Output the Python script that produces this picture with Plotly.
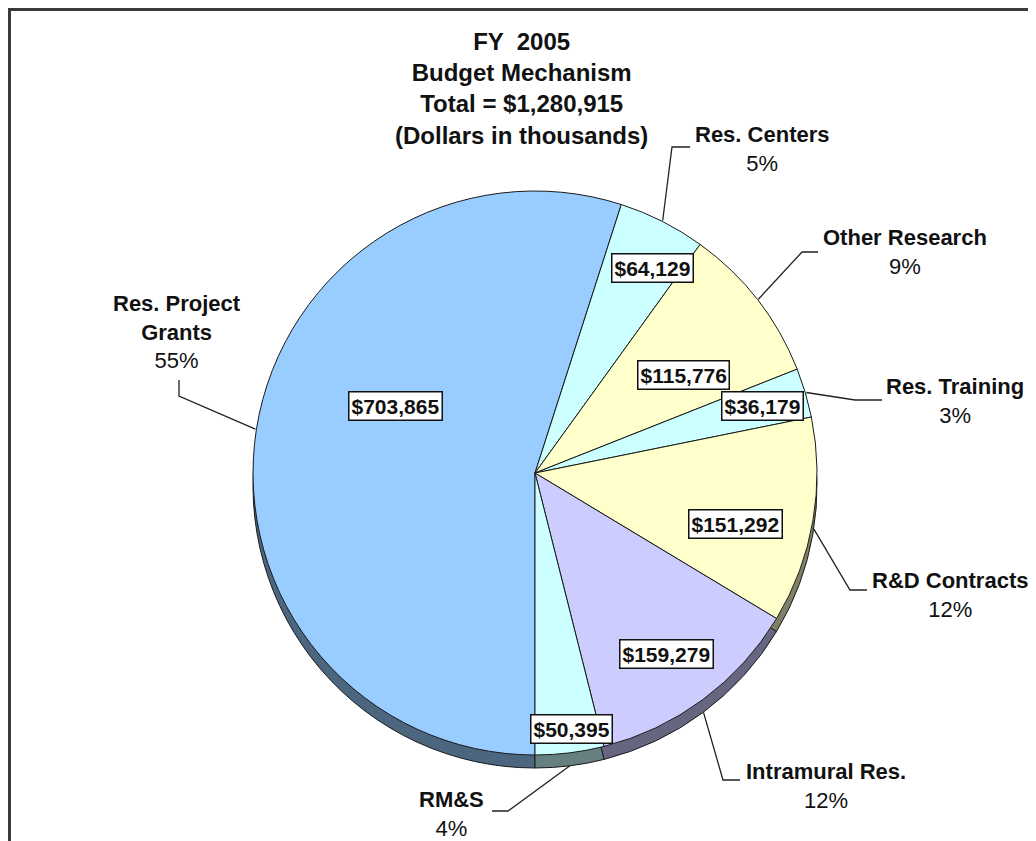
import math
import plotly.graph_objects as go

# ---- data ----
categories = ["Res. Project Grants", "Res. Centers", "Other Research", "Res. Training",
              "R&D Contracts", "Intramural Res.", "RM&S"]
label_names = ["Res. Project<br>Grants", "Res. Centers", "Other Research", "Res. Training",
               "R&D Contracts", "Intramural Res.", "RM&S"]
values = [703865, 64129, 115776, 36179, 151292, 159279, 50395]
title_lines = ["FY  2005", "Budget Mechanism", "Total = $1,280,915", "(Dollars in thousands)"]

# ---- styles / layout ----
PAGE_W, PAGE_H = 1036, 841
OFF = 8  # browser body margin
W, H = PAGE_W - OFF, PAGE_H - OFF
face_colors = ["#99CCFF", "#CCFFFF", "#FFFFCC", "#CCFFFF", "#FFFFCC", "#CCCCFF", "#CCFFFF"]
shadow_colors = ["#4D6680", "#668080", "#808066", "#668080", "#808066", "#666680", "#668080"]
CX, CY, R = 535, 473, 282
SHADOW_DY = 13
ROTATION = 180

# text block centres (page pixels)
label_pos = [(177, 332), (762, 149), (905, 252), (955, 401), (950, 595), (826, 786), (451, 814)]
# leader line elbows and ends (page pixels)
elbows = [(179, 396), (672, 147), (802, 252), (855, 400), (850, 590), (723, 780), (508, 811)]
ends = [(179, 380), (690, 147), (818, 252), (882, 400), (867, 590), (740, 780), (492, 811)]
edge_extra = [0, 0, 0, 0, 8, 12, 12]
# value box centres (page pixels)
value_pos = [(395, 406), (652, 268), (683, 375), (762, 406), (735, 524), (666, 654), (571, 729)]

total = sum(values)
FONT = "Liberation Sans, Arial"


def dom(cx, cy, r):
    return dict(x=[(cx - r - OFF) / W, (cx + r - OFF) / W],
                y=[1 - (cy + r - OFF) / H, 1 - (cy - r - OFF) / H])


fig = go.Figure()
fig.add_trace(go.Pie(
    labels=categories, values=values, sort=False, direction="clockwise", rotation=ROTATION,
    marker=dict(colors=shadow_colors, line=dict(color="#1a1a1a", width=1)),
    textinfo="none", hoverinfo="skip", showlegend=False,
    domain=dom(CX, CY + SHADOW_DY, R)))
fig.add_trace(go.Pie(
    labels=categories, values=values, sort=False, direction="clockwise", rotation=ROTATION,
    marker=dict(colors=face_colors, line=dict(color="#1a1a1a", width=1)),
    textinfo="none", hoverinfo="label+value+percent", showlegend=False,
    domain=dom(CX, CY, R)))

annotations = []
shapes = []

# title
annotations.append(dict(
    x=521, y=88, xref="x", yref="y", showarrow=False,
    text="<br>".join(title_lines),
    font=dict(family=FONT, size=24, color="#111111", weight="bold"),
    align="center", xanchor="center", yanchor="middle"))

cum = 0
for i, v in enumerate(values):
    mid = ROTATION + (cum + v / 2) / total * 360
    cum += v
    th = math.radians(mid)
    ex = CX + (R + 1) * math.sin(th)
    ey = CY - (R + 1) * math.cos(th) + edge_extra[i]
    pct = round(v / total * 100)
    lx, ly = label_pos[i]
    annotations.append(dict(
        x=lx, y=ly, xref="x", yref="y", showarrow=False,
        text=f"<b>{label_names[i]}</b><br>{pct}%",
        font=dict(family=FONT, size=22, color="#111111"),
        align="center", xanchor="center", yanchor="middle"))
    bx, by = elbows[i]
    tx, ty = ends[i]
    shapes.append(dict(
        type="path", xref="x", yref="y",
        path=f"M {ex:.1f} {ey:.1f} L {bx} {by} L {tx} {ty}",
        line=dict(color="#222222", width=1.3)))
    vx, vy = value_pos[i]
    annotations.append(dict(
        x=vx, y=vy, xref="x", yref="y", showarrow=False,
        text=f"<b>${v:,}</b>",
        font=dict(family=FONT, size=21, color="#111111"),
        bgcolor="#FFFFFF", bordercolor="#111111", borderwidth=1.5, borderpad=2,
        xanchor="center", yanchor="middle"))

# frame (top & left edges)
shapes.append(dict(type="line", xref="x", yref="y", x0=8, y0=9.5, x1=PAGE_W, y1=9.5,
                   line=dict(color="#3a3a3a", width=3)))
shapes.append(dict(type="line", xref="x", yref="y", x0=9.5, y0=8, x1=9.5, y1=PAGE_H,
                   line=dict(color="#3a3a3a", width=3)))

fig.update_layout(
    width=W, height=H, margin=dict(l=0, r=0, t=0, b=0),
    paper_bgcolor="white", plot_bgcolor="rgba(0,0,0,0)",
    xaxis=dict(range=[OFF, PAGE_W], visible=False, fixedrange=True, domain=[0, 1]),
    yaxis=dict(range=[PAGE_H, OFF], visible=False, fixedrange=True, domain=[0, 1]),
    annotations=annotations, shapes=shapes, showlegend=False)

fig.write_html("out.html")
